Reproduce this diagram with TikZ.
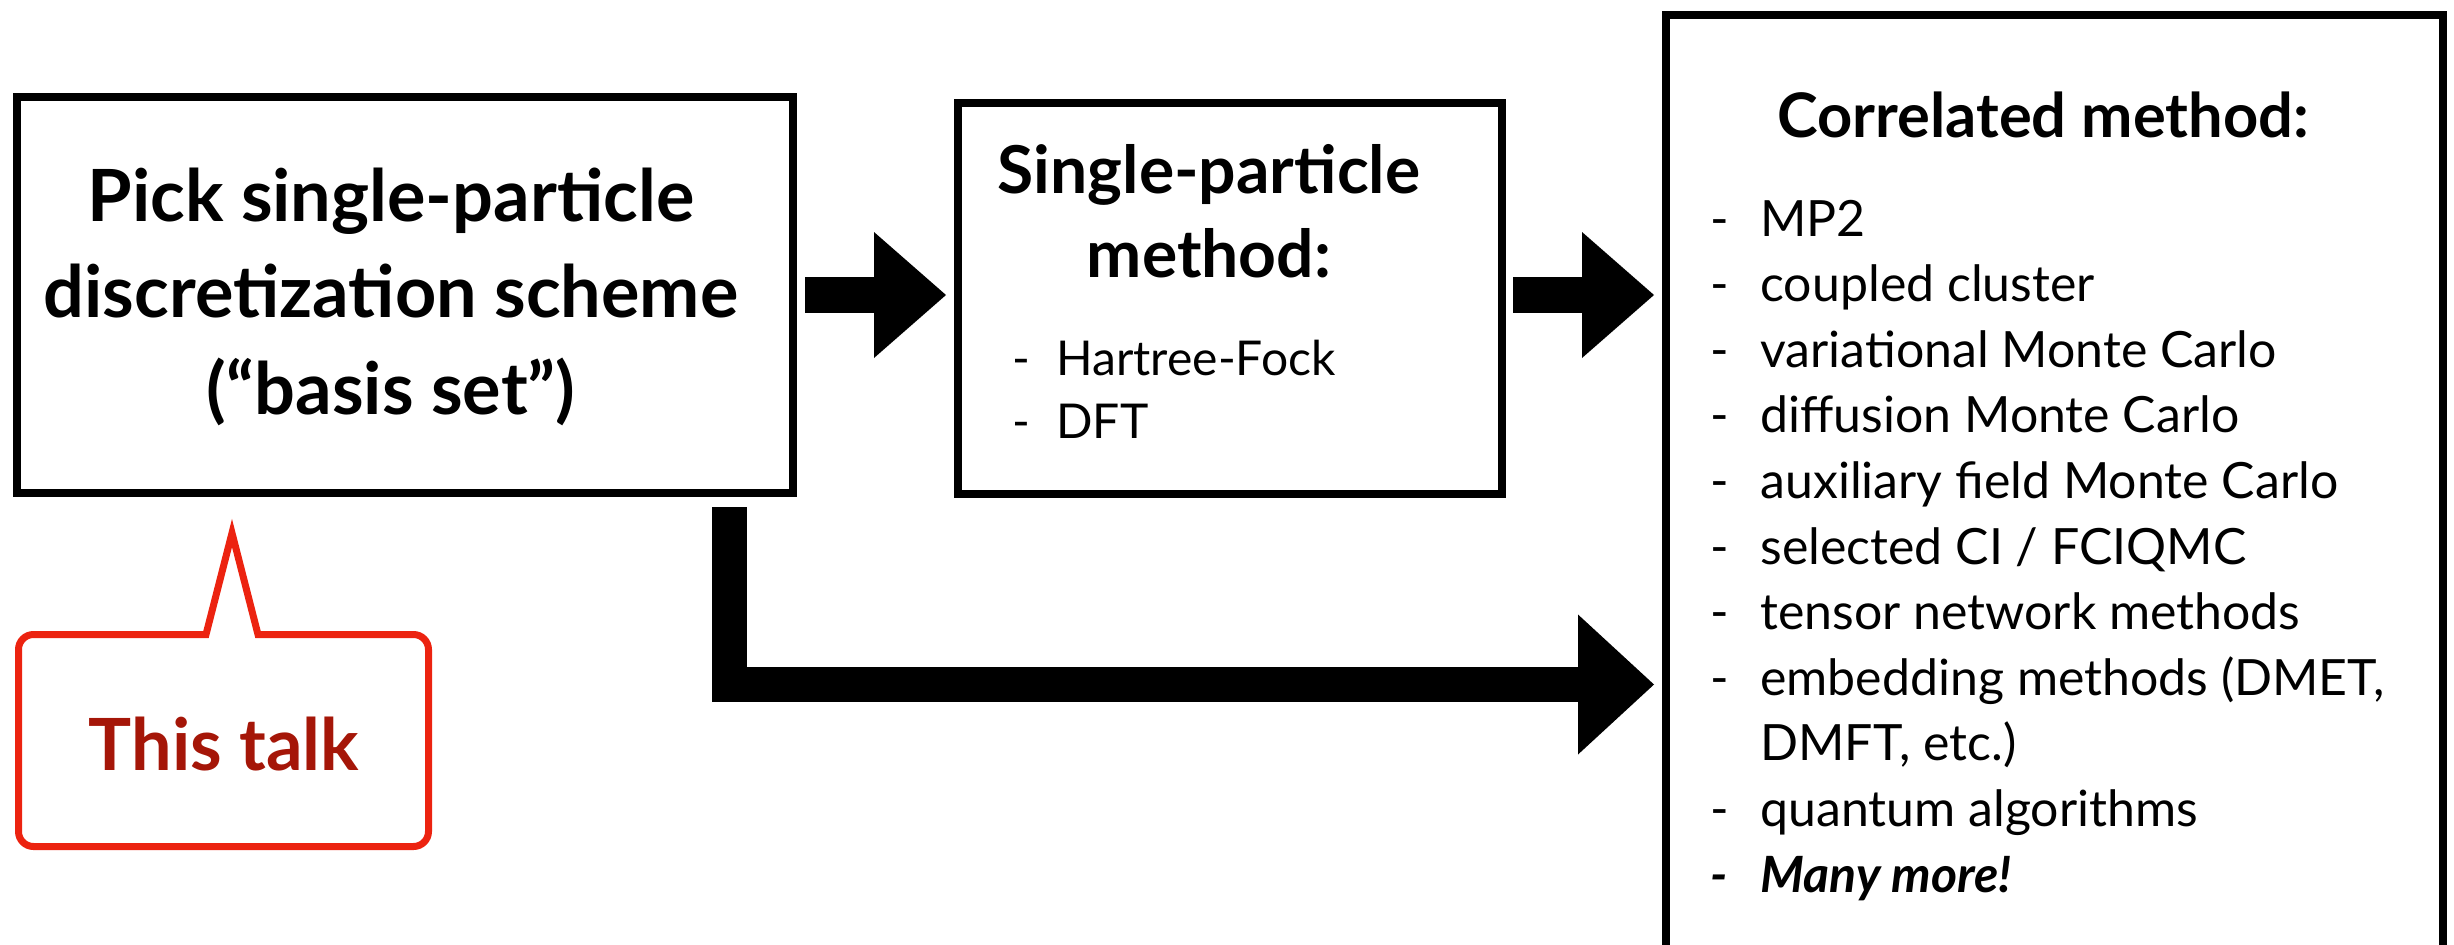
\documentclass[tikz,border=0pt]{standalone}
\usepackage{fontspec}
\setmainfont{Lato}
\usetikzlibrary{arrows.meta,calc}
\definecolor{talkred}{RGB}{236,35,16}
\definecolor{talktext}{RGB}{165,22,8}
\newcommand{\itm}[2][25pt]{\makebox[#1][l]{-}#2}

\begin{document}
\begin{tikzpicture}[x=0.5pt,y=-0.5pt,
    box/.style={draw, line width=4pt, inner sep=0pt},
    bigarrow/.style={line width=18pt, -{Triangle[length=36pt, width=63pt, line width=0pt]}},
    talkline/.style={draw=talkred, line width=3.5pt}]
    \useasboundingbox (0,0) rectangle (2454,944);

    % boxes
    \node[box, minimum width=388pt, minimum height=198pt] (pick) at (405,295) {};
    \node[box, minimum width=272pt, minimum height=195.75pt] (single) at (1229.5,298.25) {};
    \node[box, minimum width=388.5pt, minimum height=480pt] (corr) at (2054.5,495) {};

    % texts
    \node[anchor=base, align=center, font=\fontsize{36pt}{48.25pt}\selectfont\bfseries]
          (picktext) at (391,414) {Pick single-particle\\discretization scheme\\(``basis set'')};
    \node[anchor=base, align=center, font=\fontsize{33pt}{42pt}\selectfont\bfseries]
          (singletitle) at (1209,277) {Single-particle\\method:};
    \node[anchor=base west, align=left, inner sep=0pt, font=\fontsize{24pt}{31.25pt}\selectfont]
          (singlelist) at (1012,438) {\itm[22pt]{Hartree-Fock}\\\itm[22pt]{DFT}};
    \node[anchor=base, font=\fontsize{30.7pt}{36pt}\selectfont\bfseries]
          (corrtitle) at (2043,137.7) {Correlated method:};
    \node[anchor=base west, align=left, inner sep=0pt, font=\fontsize{25pt}{32.8pt}\selectfont]
          (corrlist) at (1710,892) {\itm{MP2}\\\itm{coupled cluster}\\\itm{variational Monte Carlo}\\
          \itm{diffusion Monte Carlo}\\\itm{auxiliary field Monte Carlo}\\\itm{selected CI / FCIQMC}\\
          \itm{tensor network methods}\\\itm{embedding methods (DMET,}\\\hspace*{25pt}DMFT, etc.)\\
          \itm{quantum algorithms}\\{\bfseries\itshape\itm{Many more!}}};

    % arrows
    \coordinate (bend) at (729.5,684.5);
    \draw[bigarrow] ([xshift=4pt]pick.east) -- ([xshift=-3.75pt]single.west |- pick.east);
    \draw[bigarrow] ([xshift=3.75pt]single.east |- pick.east) -- ([xshift=-4pt]corr.west |- pick.east);
    \draw[bigarrow, line width=17.5pt, -{Triangle[length=38pt, width=70pt, line width=0pt]}]
          ($(pick.south -| bend)+(0,10)$) |- ([xshift=-4pt]corr.west |- bend);

    % callout
    \draw[talkline] (100,634.5) -- (206,634.5) -- (232,533) -- (258,634.5) -- (340,634.5)
          [rounded corners=7.5pt] -- (428.5,634.5) -- (428.5,846.5) -- (18.5,846.5) -- (18.5,634.5) -- cycle;
    \node[anchor=base, text=talktext, font=\fontsize{36pt}{40pt}\selectfont\bfseries]
          (talk) at (224,770) {This talk};
\end{tikzpicture}
\end{document}
